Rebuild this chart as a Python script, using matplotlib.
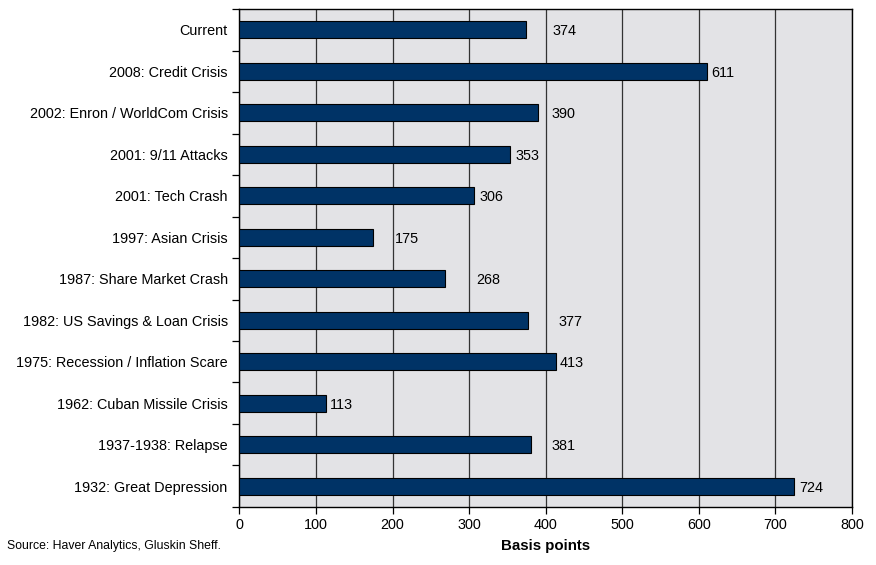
import matplotlib
matplotlib.use("Agg")
import matplotlib.pyplot as plt
from matplotlib.ticker import FixedLocator, NullFormatter

plt.rcParams['font.family'] = ['Liberation Sans', 'DejaVu Sans']

categories = [
    "Current",
    "2008: Credit Crisis",
    "2002: Enron / WorldCom Crisis",
    "2001: 9/11 Attacks",
    "2001: Tech Crash",
    "1997: Asian Crisis",
    "1987: Share Market Crash",
    "1982: US Savings & Loan Crisis",
    "1975: Recession / Inflation Scare",
    "1962: Cuban Missile Crisis",
    "1937-1938: Relapse",
    "1932: Great Depression",
]
spread_bp = [374, 611, 390, 353, 306, 175, 268, 377, 413, 113, 381, 724]

# horizontal nudge (pixels) of each value label past the bar end
label_nudge = [25, 2, 11, 4, 4, 19, 30, 28, 2, 2, 18, 3]

x_ticks = [0, 100, 200, 300, 400, 500, 600, 700, 800]

FS = 10.4

fig = plt.figure(figsize=(8.76, 5.65), dpi=100)
ax = fig.add_axes([0.2734, 0.1027, 0.6992, 0.8813])
ax.set_facecolor("#e3e3e6")

n = len(categories)
ypos = list(range(n))
ax.barh(ypos, spread_bp, height=0.41, color="#003366", edgecolor="black",
        linewidth=0.8, zorder=3)

for y, v, dx in zip(ypos, spread_bp, label_nudge):
    ax.annotate(str(v), xy=(v, y), xytext=(dx + 2, 0), textcoords="offset pixels",
                ha="left", va="center_baseline", fontsize=FS, color="black", zorder=4)

ax.set_xlim(0, 800)
ax.set_ylim(n - 0.5, -0.5)
ax.set_xticks(x_ticks)
ax.set_xticklabels([str(t) for t in x_ticks], fontsize=FS)
ax.xaxis.grid(True, color="#333333", linewidth=0.9, zorder=1)
ax.set_axisbelow(True)

# category labels without ticks; ticks drawn at category boundaries
ax.set_yticks(ypos)
ax.set_yticklabels(categories, fontsize=FS)
ax.tick_params(axis="y", which="major", length=0, pad=8.5)
ax.yaxis.set_minor_locator(FixedLocator([i - 0.5 for i in range(n + 1)]))
ax.yaxis.set_minor_formatter(NullFormatter())
ax.tick_params(axis="y", which="minor", length=5, width=0.9, direction="out")
ax.tick_params(axis="x", which="major", length=5, width=0.9, direction="out", pad=3)

for s in ax.spines.values():
    s.set_color("black")
    s.set_linewidth(1.0)

ax.set_xlabel("Basis points", fontsize=10.8, fontweight="bold", labelpad=5)
fig.text(0.008, 0.034, "Source: Haver Analytics, Gluskin Sheff.", fontsize=8.8,
         ha="left", va="center")

fig.savefig("out.png", dpi=100)
